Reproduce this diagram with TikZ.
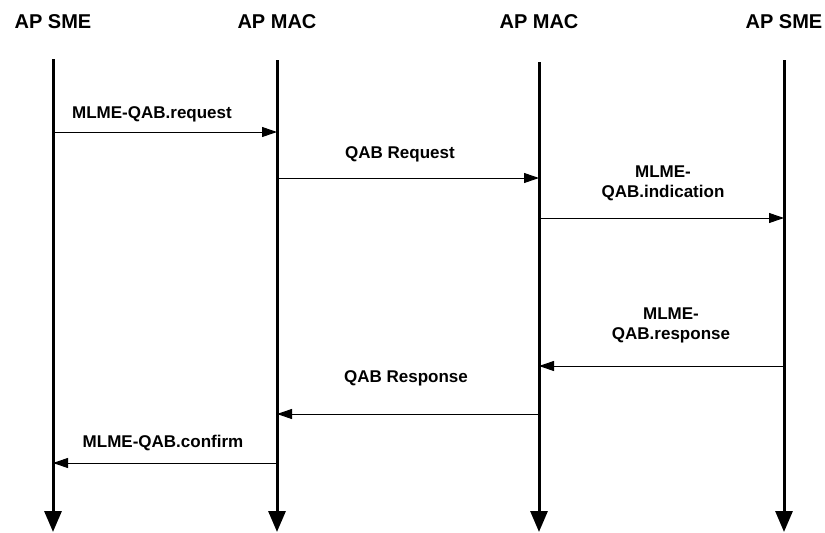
\documentclass[tikz,border=0pt]{standalone}
\usepackage{fontspec}
\setmainfont{Liberation Sans}
\usetikzlibrary{arrows.meta}
\tikzset{
  lifeline/.style={line width=3pt, -{Triangle[length=21pt,width=17pt]}},
  msg/.style={line width=1pt, -{Triangle[length=15pt,width=10pt]}},
  msglabel/.style={font=\fontsize{17}{20}\selectfont\bfseries, align=center},
  head/.style={font=\fontsize{20}{24}\selectfont\bfseries},
}

\begin{document}
\begin{tikzpicture}[x=1pt,y=-1pt]
  \useasboundingbox (0,0) rectangle (825,533);

  % entities and their lifelines
  \foreach \n/\x/\t/\name in {a/53/59/AP SME, b/277/60/AP MAC, c/539/62/AP MAC, d/784/60/AP SME} {
    \node[head] (\n) at (\x,22) {\name};
    \coordinate (\n top) at (\x,\t);
    \coordinate (\n bot) at (\x,532);
    \draw[lifeline] (\n top) -- (\n bot);
  }

  % messages
  \foreach \m/\s/\e/\y/\lx/\ly/\txt in {
    1/a/b/132/152/114/{MLME-QAB.request},
    2/b/c/178/400/154/{QAB Request},
    3/c/d/218/663/183/{MLME-\\QAB.indication},
    4/d/c/366/671/325/{MLME-\\QAB.response},
    5/c/b/414/406/378/{QAB Response},
    6/b/a/463/163/443/{MLME-QAB.confirm}%
  } {
    \coordinate (m\m s) at (\s top |- 0,\y);
    \coordinate (m\m e) at (\e top |- 0,\y);
    \draw[msg] (m\m s) -- (m\m e);
    \node[msglabel] (l\m) at (\lx,\ly) {\txt};
  }
\end{tikzpicture}
\end{document}
